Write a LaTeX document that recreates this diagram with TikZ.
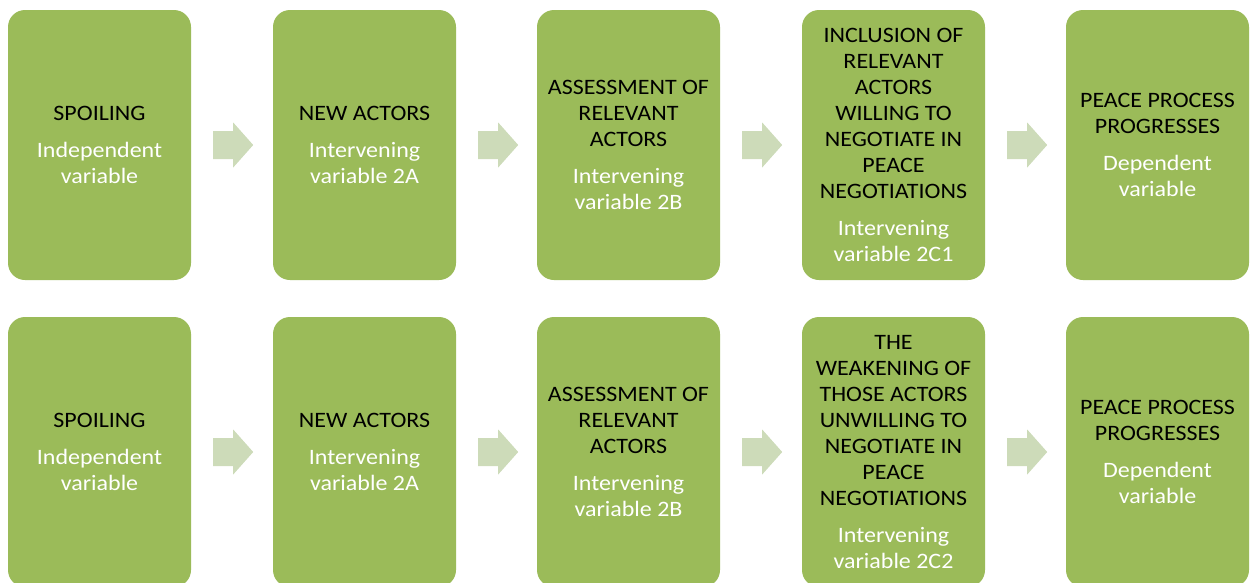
\documentclass[tikz,border=0pt]{standalone}
\usepackage{fontspec}
\setmainfont{Carlito}[FakeStretch=1.09]
\usetikzlibrary{calc}
\definecolor{boxgreen}{HTML}{9BBB59}
\definecolor{arrowgreen}{HTML}{CDDBB9}
\newcommand\wt[1]{\textcolor{white}{#1}}
\begin{document}
\begin{tikzpicture}[x=1pt,y=-1pt,
  stagebox/.style={rounded corners=17pt, fill=boxgreen, minimum width=183pt,
    minimum height=270pt, inner sep=0pt, align=center,
    font=\fontsize{22}{26}\selectfont}]
\useasboundingbox (0,0) rectangle (1250,582);
\clip (0,0) rectangle (1250,582);

% first chain
\node[stagebox] (b11) at (99.5,145) {SPOILING\\[11pt]\wt{Independent}\\\wt{variable}};
\node[stagebox] (b12) at (364.5,145) {NEW ACTORS\\[11pt]\wt{Intervening}\\\wt{variable 2A}};
\node[stagebox] (b13) at (628.5,145) {ASSESSMENT OF\\RELEVANT\\ACTORS\\[11pt]\wt{Intervening}\\\wt{variable 2B}};
\node[stagebox] (b14) at (893.5,145) {INCLUSION OF\\RELEVANT\\ACTORS\\WILLING TO\\NEGOTIATE IN\\PEACE\\NEGOTIATIONS\\[11pt]\wt{Intervening}\\\wt{variable 2C1}};
\node[stagebox] (b15) at (1157.5,145) {PEACE PROCESS\\PROGRESSES\\[11pt]\wt{Dependent}\\\wt{variable}};

% second chain
\node[stagebox] (b21) at (99.5,452) {SPOILING\\[11pt]\wt{Independent}\\\wt{variable}};
\node[stagebox] (b22) at (364.5,452) {NEW ACTORS\\[11pt]\wt{Intervening}\\\wt{variable 2A}};
\node[stagebox] (b23) at (628.5,452) {ASSESSMENT OF\\RELEVANT\\ACTORS\\[11pt]\wt{Intervening}\\\wt{variable 2B}};
\node[stagebox] (b24) at (893.5,452) {THE\\WEAKENING OF\\THOSE ACTORS\\UNWILLING TO\\NEGOTIATE IN\\PEACE\\NEGOTIATIONS\\[11pt]\wt{Intervening}\\\wt{variable 2C2}};
\node[stagebox] (b25) at (1157.5,452) {PEACE PROCESS\\PROGRESSES\\[11pt]\wt{Dependent}\\\wt{variable}};

% block arrows between consecutive stages
\foreach \r in {1,2}{
  \foreach \a in {1,2,3,4}{
    \fill[arrowgreen] ($(b\r\a.east)+(22,-14)$) -- ++(20,0) -- ++(0,-8.5)
      -- ++(20,22.5) -- ++(-20,22.5) -- ++(0,-8.5) -- ++(-20,0) -- cycle;
  }
}
\end{tikzpicture}
\end{document}
